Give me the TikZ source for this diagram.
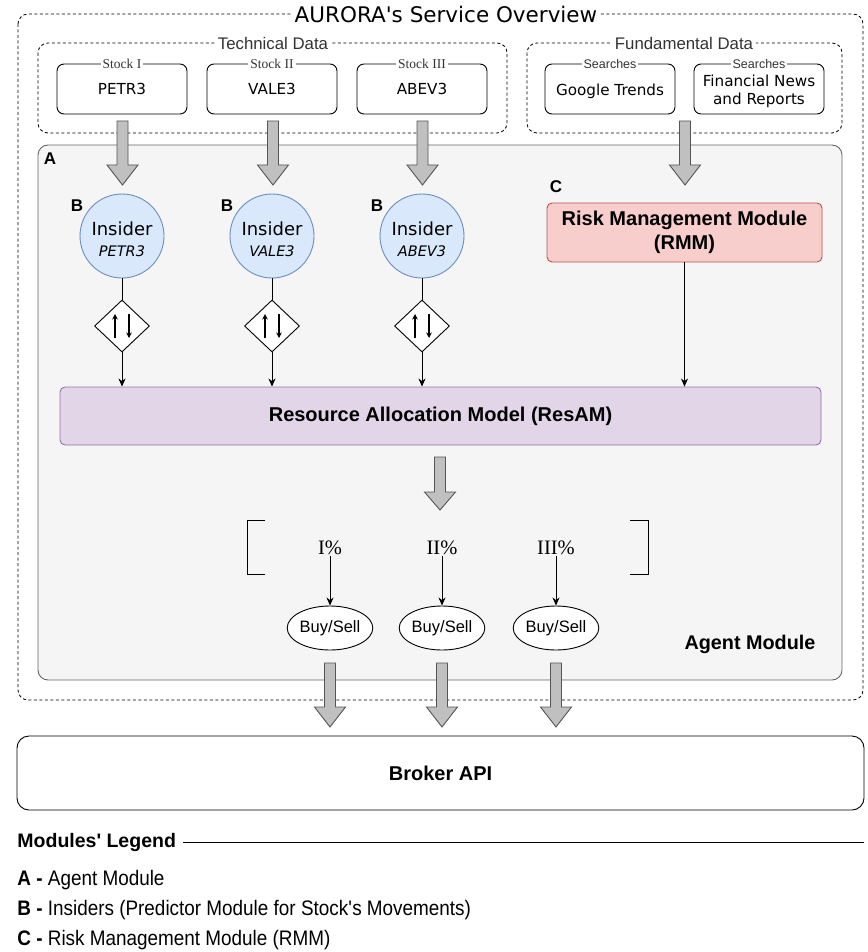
\documentclass[tikz,border=0pt]{standalone}
\usepackage{fontspec}
\usetikzlibrary{shapes.geometric,arrows.meta,calc}
\newfontfamily\verd{DejaVu Sans}
\newfontfamily\helv{Liberation Sans}
\newfontfamily\tms{Liberation Serif}
\newfontfamily\legf[FakeStretch=0.9]{Liberation Sans}
\newcommand\fsz[2]{\fontsize{#1}{#2}\selectfont}
\definecolor{agentfill}{HTML}{F5F5F5}
\definecolor{agentdraw}{HTML}{666666}
\definecolor{insfill}{HTML}{DAE8FC}
\definecolor{insdraw}{HTML}{6C8EBF}
\definecolor{resfill}{HTML}{E1D5E7}
\definecolor{resdraw}{HTML}{9673A6}
\definecolor{rmmfill}{HTML}{F8CECC}
\definecolor{rmmdraw}{HTML}{B85450}
\definecolor{arrfill}{HTML}{C0C0C0}
\definecolor{arrdraw}{HTML}{555555}
\definecolor{labgray}{HTML}{333333}
\newcommand\fatarrow[4]{%
  \draw[fatarr] ({#1-5.5},#2) -- ({#1+5.5},#2) -- ({#1+5.5},#3) -- ({#1+15.5},#3)
    -- (#1,#4) -- ({#1-15.5},#3) -- ({#1-5.5},#3) -- cycle;}
\tikzset{
  dashbox/.style={draw, dash pattern=on 3pt off 2.5pt, rounded corners=10, line width=0.8pt},
  grouplab/.style={fill=white, inner sep=3pt, text=labgray, font=\helv\fsz{16.8}{19}},
  stockbox/.style={draw, fill=white, rounded corners=7, minimum width=130, minimum height=50,
    line width=0.9pt, align=center, font=\verd\fsz{15.2}{18}},
  stocklab/.style={fill=white, inner sep=2pt, text=labgray, font=\tms\fsz{13.5}{16}},
  searchlab/.style={fill=white, inner sep=2pt, text=labgray, font=\helv\fsz{12.5}{15}},
  insider/.style={circle, draw=insdraw, fill=insfill, minimum size=84, inner sep=0},
  instext/.style={align=center, inner sep=0, font=\verd\fsz{18}{21}},
  decide/.style={diamond, draw, fill=white, minimum width=55, minimum height=52, inner sep=0},
  boldlab/.style={font=\helv\bfseries\fsz{17}{20}, inner sep=0},
  pct/.style={font=\tms\fsz{20.5}{23}, inner sep=1pt},
  buysell/.style={ellipse, draw, fill=white, minimum width=81, minimum height=44, inner sep=0,
    font=\helv\fsz{16.5}{20}},
  fatarr/.style={draw=arrdraw, fill=arrfill, line width=0.9pt, line join=miter},
  legitem/.style={anchor=west, inner sep=0, font=\legf\fsz{21}{24}},
  >={Stealth[length=8pt,width=7pt,inset=2.5pt]}
}
\begin{document}
\begin{tikzpicture}[x=1pt,y=-1pt,line width=0.9pt]
\useasboundingbox (0,0) rectangle (867,952);
% outer service box
\draw[dashbox] (18,14) rectangle (863,700);
\node[fill=white, inner sep=3pt, font=\verd\fsz{21.5}{25}] (title) at (446,14) {AURORA\textquotesingle s Service Overview};
% data groups
\draw[dashbox] (38,43) rectangle (507,133);
\node[grouplab] (techlab) at (273,43) {Technical Data};
\draw[dashbox] (527,43) rectangle (842,133);
\node[grouplab] (fundlab) at (684,43) {Fundamental Data};
% stock boxes
\node[stockbox] (s1) at (122,89) {PETR3};
\node[stocklab] (s1l) at (s1.north) {Stock I};
\node[stockbox] (s2) at (272,89) {VALE3};
\node[stocklab] (s2l) at (s2.north) {Stock II};
\node[stockbox] (s3) at (422,89) {ABEV3};
\node[stocklab] (s3l) at (s3.north) {Stock III};
\node[stockbox] (g1) at (610,89) {\raisebox{-2pt}[\height][\depth]{Google Trends}};
\node[searchlab] (g1l) at (g1.north) {Searches};
\node[stockbox] (g2) at (759,89) {\raisebox{-3pt}[\height][\depth]{\begin{tabular}{@{}c@{}}Financial News\\and Reports\end{tabular}}};
\node[searchlab] (g2l) at (g2.north) {Searches};
% agent module
\draw[draw=agentdraw, fill=agentfill, rounded corners=10] (38,145) rectangle (842,680);
\node[boldlab] (labA) at (50,159) {A};
\node[font=\helv\bfseries\fsz{19.8}{23}] (agentlab) at (750,644) {Agent Module};
% insiders
\foreach \k/\x/\nm in {1/122/PETR3,2/272/VALE3,3/422/ABEV3}{
  \node[insider] (i\k) at (\x,236) {};
  \node[instext] (i\k t) at (\x,239.5) {Insider\\{\itshape\fsz{14.5}{18}\nm}};
}
\node[boldlab] (b1l) at (77,206) {B};
\node[boldlab] (b2l) at (227,206) {B};
\node[boldlab] (b3l) at (377,206) {B};
% RMM
\node[draw=rmmdraw, fill=rmmfill, rounded corners=5, minimum width=275, minimum height=59,
  align=center, font=\helv\bfseries\fsz{20}{24}] (rmm) at (684.5,232.5) {Risk Management Module\\(RMM)};
\node[boldlab] (cl) at (556,187) {C};
% ResAM
\node[draw=resdraw, fill=resfill, rounded corners=5, minimum width=761, minimum height=58,
  font=\helv\bfseries\fsz{20}{23}] (res) at (440.5,416) {Resource Allocation Model (ResAM)};
% diamonds
\foreach \k/\x in {1/122,2/272,3/422}{
  \node[decide] (d\k) at (\x,326) {};
  \draw[-{Stealth[length=5.5pt,width=5.5pt]}, line width=1.2pt] ($(d\k.center)+(-7,12)$) -- ($(d\k.center)+(-7,-12)$);
  \draw[-{Stealth[length=5.5pt,width=5.5pt]}, line width=1.2pt] ($(d\k.center)+(7,-12)$) -- ($(d\k.center)+(7,12)$);
  \draw (i\k) -- (d\k);
  \draw[->] (d\k) -- (d\k |- res.north);
}
\draw[->] (rmm.south) -- (rmm.south |- res.north);
% brackets
\draw (265,520) -- (247,520) -- (247,574) -- (265,574);
\draw (630,520) -- (648,520) -- (648,574) -- (630,574);
% percentages and orders
\node[pct] (p1) at (330,548) {I\%};
\node[pct] (p2) at (442,548) {II\%};
\node[pct] (p3) at (556,548) {III\%};
\node[buysell] (o1) at (330,628) {Buy/Sell};
\node[buysell] (o2) at (442,628) {Buy/Sell};
\node[buysell] (o3) at (556,628) {Buy/Sell};
\foreach \k in {1,2,3}{\draw[->] (p\k) -- (o\k);}
% broker
\node[draw, fill=white, rounded corners=12, minimum width=847, minimum height=74,
  font=\helv\bfseries\fsz{20}{23}] (broker) at (440.5,773) {Broker API};
% fat arrows
\fatarrow{122.5}{121}{165}{185}
\fatarrow{273}{121}{165}{185}
\fatarrow{422.5}{121}{165}{185}
\fatarrow{685}{121}{165}{185}
\fatarrow{440}{457}{492}{510}
\fatarrow{330}{663}{707}{727}
\fatarrow{442}{663}{707}{727}
\fatarrow{556}{663}{707}{727}
% legend
\node[anchor=west, inner sep=0, font=\helv\bfseries\fsz{19.5}{23}] (leg) at (17,842) {Modules\textquotesingle\ Legend};
\draw ([xshift=7pt]leg.east) -- (864,842);
\node[legitem] (la) at (17,880) {\textbf{A -} Agent Module};
\node[legitem] (lb) at (17,910) {\textbf{B -} Insiders (Predictor Module for Stock\textquotesingle s Movements)};
\node[legitem] (lc) at (17,940) {\textbf{C -} Risk Management Module (RMM)};
\end{tikzpicture}
\end{document}
